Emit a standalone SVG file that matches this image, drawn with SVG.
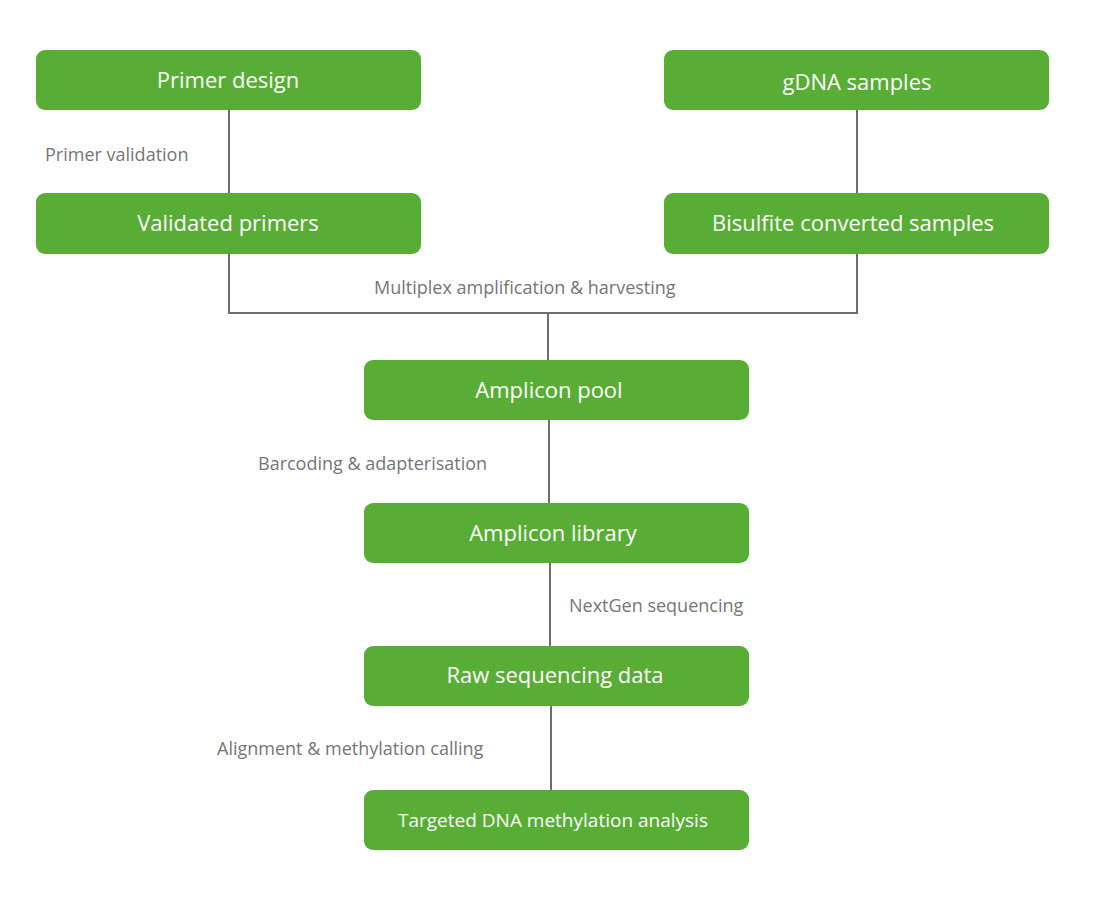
<svg xmlns="http://www.w3.org/2000/svg" width="1099" height="900" viewBox="0 0 1099 900">
<style>
.n{fill:#58AE35}
.t{fill:#fff;font-family:"Open Sans","Liberation Sans",sans-serif;font-size:22px;text-anchor:middle}
.l{fill:#767676;font-family:"Open Sans","Liberation Sans",sans-serif;font-size:18px}
.c{stroke:#6e6e6e;stroke-width:2;fill:none}
</style>
<rect width="1099" height="900" fill="#fff"/>
<g id="connectors">
<path class="c" d="M229 110V193M857 110V193M229 254V313H857V254M548 313V360M549 420V503M550 563V646M551 706V790"/>
<text class="l" x="45" y="161">Primer validation</text>
<text class="l" x="374" y="294">Multiplex amplification &amp; harvesting</text>
<text class="l" x="258" y="470">Barcoding &amp; adapterisation</text>
<text class="l" x="569" y="612">NextGen sequencing</text>
<text class="l" x="217" y="755">Alignment &amp; methylation calling</text>
</g>
<g id="n1"><rect class="n" x="36" y="50" width="385" height="60" rx="9"/><text class="t" x="228" y="88">Primer design</text></g>
<g id="n2"><rect class="n" x="664" y="50" width="385" height="60" rx="9"/><text class="t" x="857" y="90">gDNA samples</text></g>
<g id="n3"><rect class="n" x="36" y="193" width="385" height="61" rx="9"/><text class="t" x="228" y="231">Validated primers</text></g>
<g id="n4"><rect class="n" x="664" y="193" width="385" height="61" rx="9"/><text class="t" x="853" y="231">Bisulfite converted samples</text></g>
<g id="n5"><rect class="n" x="364" y="360" width="385" height="60" rx="9"/><text class="t" x="549" y="398">Amplicon pool</text></g>
<g id="n6"><rect class="n" x="364" y="503" width="385" height="60" rx="9"/><text class="t" x="553" y="541">Amplicon library</text></g>
<g id="n7"><rect class="n" x="364" y="646" width="385" height="60" rx="9"/><text class="t" x="555" y="683">Raw sequencing data</text></g>
<g id="n8"><rect class="n" x="364" y="790" width="385" height="60" rx="9"/><text class="t" x="553" y="827" style="font-size:19px">Targeted DNA methylation analysis</text></g>
</svg>
